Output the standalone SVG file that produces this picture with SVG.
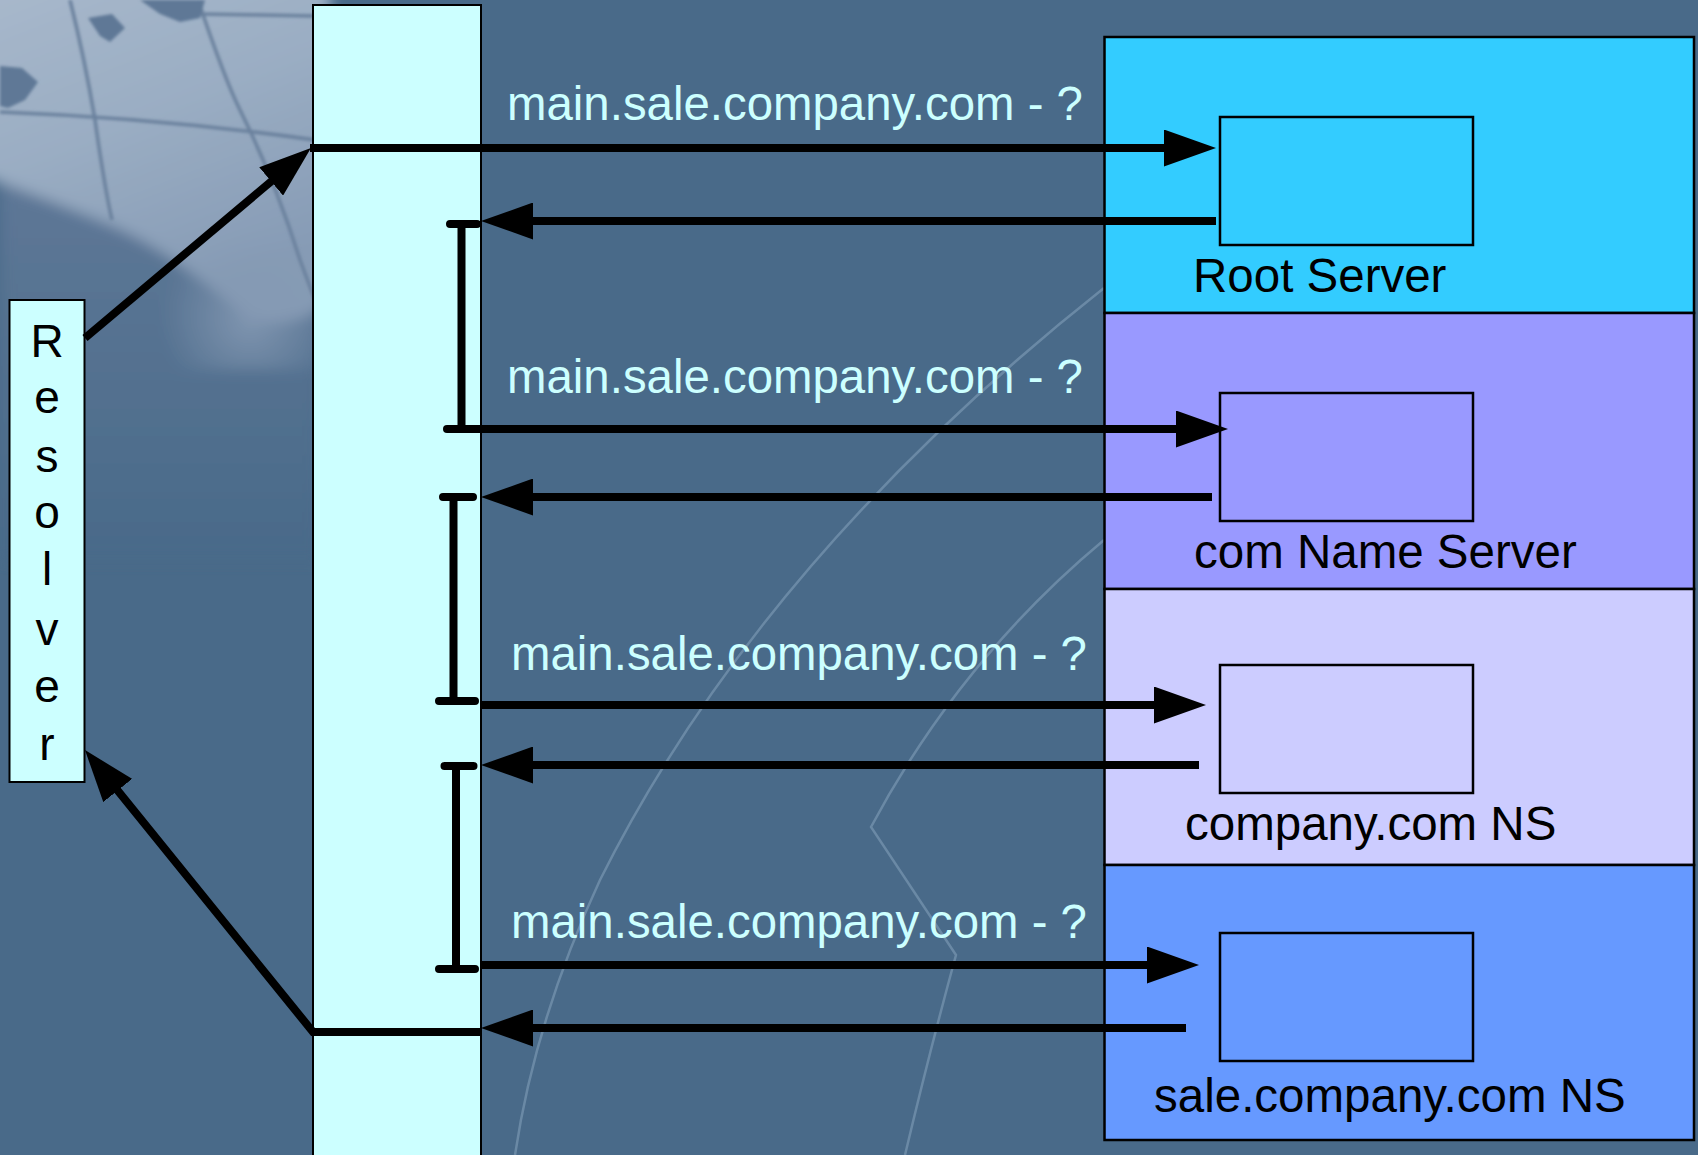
<svg xmlns="http://www.w3.org/2000/svg" width="1698" height="1155" viewBox="0 0 1698 1155">
  <defs>
    <linearGradient id="globeLight" x1="0" y1="0" x2="0.4" y2="1">
      <stop offset="0" stop-color="#a9b9cc"/>
      <stop offset="0.5" stop-color="#9aadc3"/>
      <stop offset="1" stop-color="#869bb5"/>
    </linearGradient>
    <linearGradient id="globeShade" x1="0" y1="0" x2="0" y2="1">
      <stop offset="0" stop-color="#5f7897"/>
      <stop offset="1" stop-color="#496a89"/>
    </linearGradient>
    <radialGradient id="cloud" cx="250" cy="320" r="90" gradientUnits="userSpaceOnUse">
      <stop offset="0" stop-color="#8499b3" stop-opacity="0.9"/>
      <stop offset="1" stop-color="#8499b3" stop-opacity="0"/>
    </radialGradient>
    <filter id="soft" x="-10%" y="-10%" width="120%" height="120%">
      <feGaussianBlur stdDeviation="7"/>
    </filter>
    <filter id="softer" x="-10%" y="-10%" width="120%" height="120%">
      <feGaussianBlur stdDeviation="1.5"/>
    </filter>
    <marker id="head" markerUnits="userSpaceOnUse" markerWidth="52" markerHeight="37" viewBox="0 0 52 37" refX="10" refY="18.5" orient="auto">
      <path d="M0,0 L52,18.5 L0,37 z" fill="#000"/>
    </marker>
    <style>
      .conn { stroke: #000; stroke-width: 8; fill: none; }
      .tick { stroke: #000; stroke-width: 8; fill: none; stroke-linecap: round; }
      .arc { stroke: #a9c2da; stroke-opacity: 0.35; stroke-width: 2.5; fill: none; }
      .grid { stroke: #6a819d; stroke-width: 3.5; fill: none; }
      .land { fill: #5f7896; }
      .col { fill: #ccffff; stroke: #000; stroke-width: 2; }
      .box { stroke: #000; stroke-width: 2.5; }
      .query { font-family: "Liberation Sans", Arial, sans-serif; font-size: 47.4px; fill: #ccffff; }
      .name { font-family: "Liberation Sans", Arial, sans-serif; font-size: 47.5px; fill: #000; }
      .vert { font-family: "Liberation Sans", Arial, sans-serif; font-size: 46px; fill: #000; text-anchor: middle; }
    </style>
  </defs>

  <!-- backdrop: blue field with a pale globe in the upper left -->
  <g id="backdrop">
    <rect x="0" y="0" width="1698" height="1155" fill="#496a89"/>
    <g filter="url(#soft)">
      <path d="M0,160 Q140,230 320,250 L320,560 L0,560 z" fill="url(#globeShade)"/>
      <path d="M-20,-20 L330,-20 L330,300 Q300,330 250,320 Q170,250 110,225 Q50,200 -20,175 z" fill="url(#globeLight)"/>
      <rect x="140" y="230" width="200" height="140" fill="url(#cloud)"/>
    </g>
    <g filter="url(#softer)">
      <path class="grid" d="M70,0 Q85,60 95,120 Q105,190 112,220"/>
      <path class="grid" d="M198,0 Q225,80 240,110 Q275,180 300,260 L315,300"/>
      <path class="grid" d="M0,112 Q160,118 315,140"/>
      <path class="grid" d="M200,14 L315,16"/>
      <path class="land" d="M0,66 L22,68 L38,82 L25,100 L8,108 L0,106 z"/>
      <path class="land" d="M88,18 L112,14 L125,28 L110,42 L100,36 z"/>
      <path class="land" d="M140,0 L205,0 L200,18 L180,22 L160,14 z"/>
    </g>
    <path class="arc" d="M1104,288 Q760,560 600,880 Q535,1020 515,1155"/>
    <path class="arc" d="M1104,540 Q960,660 871,827 L956,955 Q930,1050 905,1155"/>
  </g>

  <!-- message column between resolver and servers -->
  <g id="column">
    <rect class="col" x="313" y="5" width="168" height="1160"/>
  </g>

  <!-- resolver -->
  <g id="resolver">
    <rect class="col" x="9.5" y="300" width="75" height="482"/>
    <text class="vert" x="47" y="357">R</text>
    <text class="vert" x="47" y="413">e</text>
    <text class="vert" x="47" y="472">s</text>
    <text class="vert" x="47" y="528">o</text>
    <text class="vert" x="47" y="585">l</text>
    <text class="vert" x="47" y="645">v</text>
    <text class="vert" x="47" y="702">e</text>
    <text class="vert" x="47" y="760">r</text>
  </g>

  <!-- name server tiers -->
  <g id="root-server">
    <rect class="box" x="1104.5" y="37" width="589.5" height="276" fill="#33ccff"/>
    <rect class="box" x="1220" y="117" width="253" height="128" fill="#33ccff"/>
    <text class="name" x="1193" y="292">Root Server</text>
  </g>
  <g id="com-server">
    <rect class="box" x="1104.5" y="313" width="589.5" height="276" fill="#9999ff"/>
    <rect class="box" x="1220" y="393" width="253" height="128" fill="#9999ff"/>
    <text class="name" x="1194" y="568">com Name Server</text>
  </g>
  <g id="company-server">
    <rect class="box" x="1104.5" y="589" width="589.5" height="276" fill="#ccccff"/>
    <rect class="box" x="1220" y="665" width="253" height="128" fill="#ccccff"/>
    <text class="name" x="1185" y="840">company.com NS</text>
  </g>
  <g id="sale-server">
    <rect class="box" x="1104.5" y="865" width="589.5" height="275" fill="#6699ff"/>
    <rect class="box" x="1220" y="933" width="253" height="128" fill="#6699ff"/>
    <text class="name" x="1154" y="1112">sale.company.com NS</text>
  </g>

  <!-- query labels -->
  <g id="labels">
    <text class="query" x="507" y="120">main.sale.company.com - ?</text>
    <text class="query" x="507" y="393">main.sale.company.com - ?</text>
    <text class="query" x="511" y="670">main.sale.company.com - ?</text>
    <text class="query" x="511" y="938">main.sale.company.com - ?</text>
  </g>

  <!-- connectors -->
  <g id="connectors">
    <line class="conn" x1="85" y1="338" x2="278.8" y2="175" marker-end="url(#head)"/>
    <line class="conn" x1="310" y1="148" x2="1174" y2="148" marker-end="url(#head)"/>
    <line class="conn" x1="1216" y1="221" x2="523" y2="221" marker-end="url(#head)"/>

    <path class="tick" d="M450,224 H477 M461.5,224 V429"/>
    <line class="tick" x1="447" y1="429" x2="1186" y2="429" marker-end="url(#head)"/>
    <line class="conn" x1="1212" y1="497" x2="523" y2="497" marker-end="url(#head)"/>

    <path class="tick" d="M443,497 H473 M453.5,497 V701 M439,701 H475"/>
    <line class="conn" x1="481" y1="705" x2="1164" y2="705" marker-end="url(#head)"/>
    <line class="conn" x1="1199" y1="765" x2="523" y2="765" marker-end="url(#head)"/>

    <path class="tick" d="M444.5,766 H473.5 M456,766 V969 M439,969 H475"/>
    <line class="conn" x1="481" y1="965" x2="1157" y2="965" marker-end="url(#head)"/>
    <line class="conn" x1="1186" y1="1028" x2="523" y2="1028" marker-end="url(#head)"/>

    <polyline class="conn" points="481,1032 313,1032 111.4,782.7" marker-end="url(#head)"/>
  </g>
</svg>
